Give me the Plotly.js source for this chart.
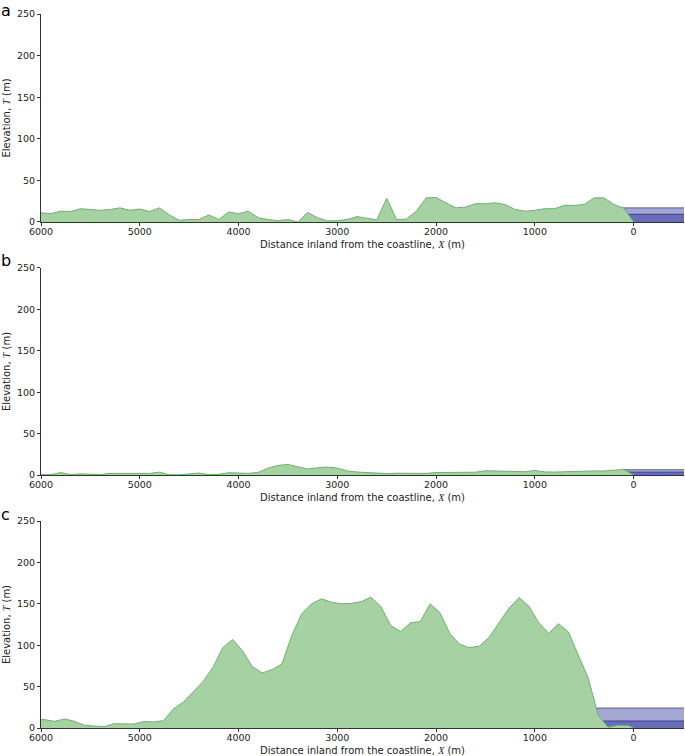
<!DOCTYPE html>
<html>
<head>
<meta charset="utf-8">
<script src="https://cdn.plot.ly/plotly-3.0.1.min.js"></script>
<style>
html,body{margin:0;padding:0;background:#fff;}
#chart{width:685px;height:756px;}
</style>
</head>
<body>
<div id="chart"></div>
<script>
// ---- data ----
const distA = [6000,5900,5800,5700,5600,5500,5400,5300,5200,5100,5000,4900,4800,4700,4600,4500,4400,4300,4200,4100,4000,3900,3800,3700,3600,3500,3400,3300,3200,3100,3000,2900,2800,2700,2600,2500,2400,2300,2200,2100,2000,1900,1800,1700,1600,1500,1400,1300,1200,1100,1000,900,800,700,600,500,400,300,200,100,0];
const elevA = [11,10,13,12.5,16,15,14,15,17,14,15.5,12.5,17,8.5,2,3,3,8.5,3,12,10,13,5,3,1.5,3,0,11.5,5,1.5,1.5,3,6.5,4.5,2.5,28.5,3,3.5,13,29,29.5,23,17,18,22,22,23,21,15,13,14,16,16,20,20,21,29,29,21,16.5,0];

const distB = distA;
const elevB = [0.5,0.5,3,0.5,1.5,0.8,0.5,2,2,2.4,2,2,3.5,0.3,0.3,1.2,2.4,0.4,0.8,2.8,2.4,2,3.2,8.4,11.6,12.8,10,7.2,8.8,9.6,8.4,5,3.6,3,2.5,1.8,2.2,2,1.7,2,3,3.2,3.2,3.2,3.4,5.2,5,4,4,4,5.5,3.8,3.6,4,4.6,5.4,5,4.8,6.2,6.8,0];

const distC = [6060,5960,5860,5760,5660,5560,5460,5360,5260,5160,5060,4960,4860,4760,4660,4560,4460,4360,4260,4160,4060,3960,3860,3760,3660,3560,3460,3360,3260,3160,3060,2960,2860,2760,2660,2560,2460,2360,2260,2160,2060,1960,1860,1760,1660,1560,1460,1360,1260,1160,1060,960,860,760,660,560,460,360,260,160,60,0];
const elevC = [10.5,10,8,11,8,3.2,2.4,1.6,5.2,4.8,4.8,7.7,7.3,8.9,23,31,44,56,73,97,107,93,74,66.5,70.5,77.5,112,138,150,156,152,150,150.5,152.5,158,147,124,116.5,127,128.5,150,139,114,101,97,99,110,127,145,157.5,147,127,114.5,126,116,88,60.5,16,0.8,3.2,3.2,0];

// sea levels (upper, lower) per panel, and where the sea meets land
const seaLevelsA = [17, 9.3];
const seaLevelsB = [6.5, 3.5];
const seaLevelsC = [24.2, 8.5];
const seaStart = [180, 100, 420];
const seaEnd = -510;

const xTicks = [6000,5000,4000,3000,2000,1000,0];
const yTicks = [0,50,100,150,200,250];
const panelLetters = ['a','b','c'];

// ---- build traces ----
const FONT = 'DejaVu Sans, Verdana, sans-serif';
const traces = [];
const panels = [
  {dist: distA, elev: elevA, sea: seaLevelsA},
  {dist: distB, elev: elevB, sea: seaLevelsB},
  {dist: distC, elev: elevC, sea: seaLevelsC}
];
panels.forEach((p, i) => {
  const xa = i === 0 ? 'x' : 'x' + (i + 1);
  const ya = i === 0 ? 'y' : 'y' + (i + 1);
  p.sea.forEach(level => {
    traces.push({
      type: 'scatter', mode: 'lines', xaxis: xa, yaxis: ya,
      x: [seaStart[i], seaEnd], y: [level, level],
      fill: 'tozeroy', fillcolor: 'rgba(0,10,128,0.36)',
      line: {color: 'rgba(0,10,128,0.55)', width: 1},
      hoverinfo: 'skip', showlegend: false
    });
  });
  traces.push({
    type: 'scatter', mode: 'lines', xaxis: xa, yaxis: ya,
    x: p.dist, y: p.elev,
    fill: 'tozeroy', fillcolor: 'rgb(166,210,163)',
    line: {color: 'rgb(104,182,104)', width: 1},
    hoverinfo: 'skip', showlegend: false
  });
});

const xTitle = 'Distance inland from the coastline, <span style="font-family:Liberation Serif, serif"><i>X</i></span> (m)';
const yTitle = 'Elevation, <span style="font-family:Liberation Serif, serif"><i>T</i></span> (m)';

function xAxis(anchor) {
  return {
    anchor: anchor, domain: [0, 1],
    range: [6000, seaEnd],
    showline: true, linecolor: '#333', linewidth: 1,
    ticks: 'outside', ticklen: 3, tickcolor: '#333', tickwidth: 1,
    ticklabelstandoff: -2,
    showgrid: false, zeroline: false,
    tickvals: xTicks, ticktext: xTicks.map(String),
    tickfont: {family: FONT, size: 9.5, color: '#222'},
    title: {text: xTitle, font: {family: FONT, size: 10, color: '#222'}, standoff: 4}
  };
}
function yAxis(anchor, domain) {
  return {
    anchor: anchor, domain: domain,
    range: [0, 250],
    showline: true, linecolor: '#333', linewidth: 1,
    ticks: 'outside', ticklen: 3, tickcolor: '#333', tickwidth: 1,
    showgrid: false, zeroline: false,
    tickvals: yTicks, ticktext: yTicks.map(String),
    tickfont: {family: FONT, size: 9.5, color: '#222'},
    title: {text: yTitle, font: {family: FONT, size: 10, color: '#222'}, standoff: 4}
  };
}

const layout = {
  width: 685, height: 756,
  margin: {l: 41, r: 1, t: 14, b: 28},
  paper_bgcolor: '#fff', plot_bgcolor: 'rgba(0,0,0,0)',
  font: {family: FONT, size: 10, color: '#222'},
  showlegend: false,
  hovermode: false,
  xaxis: xAxis('y'),
  yaxis: yAxis('x', [0.7087, 1]),
  xaxis2: xAxis('y2'),
  yaxis2: yAxis('x2', [0.3543, 0.6443]),
  xaxis3: xAxis('y3'),
  yaxis3: yAxis('x3', [0, 0.2899]),
  annotations: panelLetters.map((t, i) => ({
    text: t, xref: 'paper', yref: 'paper',
    x: -41 / 643, xanchor: 'left',
    y: [1.0196, 0.6695, 0.3144][i], yanchor: 'top',
    borderpad: 0,
    showarrow: false, font: {family: FONT, size: 16, color: '#000'}
  }))
};

Plotly.newPlot('chart', traces, layout, {displayModeBar: false, staticPlot: true});
</script>
</body>
</html>
